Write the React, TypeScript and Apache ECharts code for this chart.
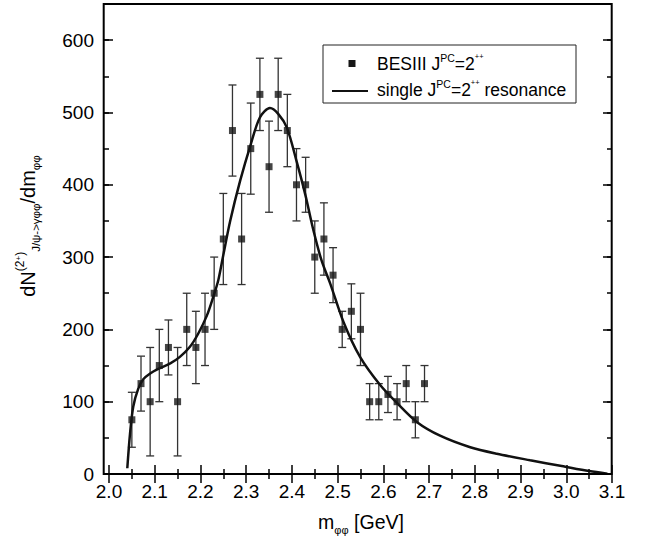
import React, { useEffect, useRef } from "react";
import * as echarts from "echarts";

// BESIII data points: m_phiphi [GeV], counts, symmetric errors
const massPoints = [
  2.05, 2.07, 2.09, 2.11, 2.13, 2.15, 2.17, 2.19, 2.21, 2.23, 2.25, 2.27, 2.29,
  2.31, 2.33, 2.35, 2.37, 2.39, 2.41, 2.43, 2.45, 2.47, 2.49, 2.51, 2.53, 2.55,
  2.57, 2.59, 2.61, 2.63, 2.65, 2.67, 2.69,
];
const counts = [
  75, 125, 100, 150, 175, 100, 200, 175, 200, 250, 325, 475, 325,
  450, 525, 425, 525, 475, 400, 400, 300, 325, 275, 200, 225, 200,
  100, 100, 110, 100, 125, 75, 125,
];
const errors = [
  38, 38, 75, 50, 38, 75, 50, 50, 50, 50, 63, 63, 63,
  63, 50, 63, 50, 50, 50, 38, 50, 50, 38, 25, 38, 50,
  25, 25, 25, 25, 25, 25, 25,
];

// single J^PC = 2^++ resonance fit curve
const fitX = [
  2.04, 2.046, 2.053, 2.064, 2.075, 2.09, 2.11, 2.134, 2.155, 2.177, 2.195,
  2.214, 2.228, 2.239, 2.25, 2.265, 2.287, 2.31, 2.33, 2.352, 2.37, 2.389,
  2.41, 2.429, 2.447, 2.465, 2.484, 2.513, 2.549, 2.593, 2.63, 2.673, 2.724,
  2.79, 2.848, 2.921, 2.99, 3.05, 3.09,
];
const fitY = [
  8, 56, 93, 118, 131, 139, 146, 153, 162, 176, 194,
  219, 245, 268, 303, 350, 406, 456, 493, 506, 498, 479,
  433, 387, 337, 295, 263, 210, 162, 123, 98, 72, 53,
  37, 28, 19, 11, 4, 0.5,
];

const FONT = "'Liberation Sans', Arial, Helvetica, sans-serif";

export default function App() {
  const ref = useRef<HTMLDivElement>(null);

  useEffect(() => {
    if (!ref.current) return;
    const chart = echarts.init(ref.current, undefined, { renderer: "svg" });

    const errData = massPoints.map((x, i) => [x, counts[i] - errors[i], counts[i] + errors[i]]);
    const ptData = massPoints.map((x, i) => [x, counts[i]]);
    const fitData = fitX.map((x, i) => [x, fitY[i]]);

    const tickStyle = { color: "#000", width: 1.5 };
    const baseX = {
      type: "value",
      min: 2.0,
      max: 3.1,
      interval: 0.1,
      splitLine: { show: false },
      axisLine: { show: false },
      axisTick: { show: true, inside: true, length: 9, lineStyle: tickStyle },
      minorTick: { show: true, splitNumber: 2, length: 5, lineStyle: tickStyle },
    };
    const baseY = {
      type: "value",
      min: 0,
      max: 650,
      splitLine: { show: false },
      axisLine: { show: false },
    };

    const legendRich = {
      a: { fontSize: 17.5, fontFamily: FONT, lineHeight: 24, fill: "#000" },
      s: { fontSize: 10.5, fontFamily: FONT, lineHeight: 13, verticalAlign: "top", fill: "#000" },
      t: { fontSize: 7.5, fontFamily: FONT, lineHeight: 9, verticalAlign: "top", fill: "#000" },
    };

    const option: any = {
      animation: false,
      textStyle: { fontFamily: FONT },
      grid: { left: 109, right: 37, top: 4, bottom: 67, containLabel: false },
      xAxis: [
        {
          ...baseX,
          position: "bottom",
          axisLabel: {
            show: true,
            fontSize: 19,
            color: "#000",
            fontFamily: FONT,
            margin: 8,
            formatter: (v: number) => v.toFixed(1),
          },
        },
        { ...baseX, position: "top", axisLabel: { show: false } },
      ],
      yAxis: [
        {
          ...baseY,
          position: "left",
          offset: 5,
          interval: 100,
          axisTick: { show: true, inside: true, length: 9, lineStyle: tickStyle },
          axisLabel: {
            show: true,
            fontSize: 19,
            color: "#000",
            fontFamily: FONT,
            margin: 10,
            showMaxLabel: false,
          },
        },
        {
          ...baseY,
          position: "left",
          offset: 5,
          interval: 50,
          axisTick: { show: true, inside: true, length: 5, lineStyle: tickStyle },
          axisLabel: { show: false },
        },
        {
          ...baseY,
          position: "right",
          interval: 100,
          axisTick: { show: true, inside: true, length: 9, lineStyle: tickStyle },
          axisLabel: { show: false },
        },
        {
          ...baseY,
          position: "right",
          interval: 50,
          axisTick: { show: true, inside: true, length: 5, lineStyle: tickStyle },
          axisLabel: { show: false },
        },
      ],
      series: [
        {
          type: "custom",
          name: "errors",
          z: 1,
          data: errData,
          encode: { x: 0, y: [1, 2] },
          renderItem: (params: any, api: any) => {
            const x = api.value(0);
            const lo = api.coord([x, api.value(1)]);
            const hi = api.coord([x, api.value(2)]);
            const half = 4;
            const style = { stroke: "#333", lineWidth: 1.3 };
            return {
              type: "group",
              children: [
                { type: "line", shape: { x1: lo[0], y1: lo[1], x2: hi[0], y2: hi[1] }, style },
                { type: "line", shape: { x1: lo[0] - half, y1: lo[1], x2: lo[0] + half, y2: lo[1] }, style },
                { type: "line", shape: { x1: hi[0] - half, y1: hi[1], x2: hi[0] + half, y2: hi[1] }, style },
              ],
            };
          },
        },
        {
          type: "line",
          name: "single resonance",
          z: 2,
          data: fitData,
          showSymbol: false,
          smooth: 0.3,
          lineStyle: { color: "#111", width: 2.5 },
        },
        {
          type: "scatter",
          name: "BESIII",
          z: 3,
          data: ptData,
          symbol: "rect",
          symbolSize: 7,
          itemStyle: { color: "#161616" },
        },
      ],
      graphic: [
        {
          type: "rect",
          z: 100,
          shape: { x: 103.7, y: 4, width: 508, height: 470 },
          style: { fill: "none", stroke: "#000", lineWidth: 2 },
        },
        {
          type: "rect",
          z: 100,
          shape: { x: 323, y: 45, width: 253, height: 58 },
          style: { fill: "#fff", stroke: "#222", lineWidth: 1 },
        },
        {
          type: "rect",
          z: 101,
          shape: { x: 348.5, y: 60, width: 7, height: 7 },
          style: { fill: "#161616" },
        },
        {
          type: "line",
          z: 101,
          shape: { x1: 332, y1: 91, x2: 368, y2: 91 },
          style: { stroke: "#111", lineWidth: 2 },
        },
        {
          type: "text",
          z: 101,
          x: 377,
          y: 64,
          style: {
            text: "{a|BESIII J}{s|PC}{a|=2}{t|++}",
            align: "left",
            verticalAlign: "middle",
            fill: "#000",
            rich: legendRich,
          },
        },
        {
          type: "text",
          z: 101,
          x: 377,
          y: 90,
          style: {
            text: "{a|single J}{s|PC}{a|=2}{t|++}{a| resonance}",
            align: "left",
            verticalAlign: "middle",
            fill: "#000",
            rich: legendRich,
          },
        },
        {
          type: "text",
          z: 101,
          x: 361,
          y: 522,
          style: {
            text: "{a|m}{b|φφ}{a| [GeV]}",
            align: "center",
            verticalAlign: "middle",
            fill: "#000",
            rich: {
              a: { fontSize: 19.5, fontFamily: FONT, lineHeight: 26, fill: "#000" },
              b: { fontSize: 11, fontFamily: FONT, lineHeight: 12, verticalAlign: "bottom", fill: "#000" },
            },
          },
        },
        {
          type: "text",
          z: 101,
          x: 28,
          y: 226,
          rotation: Math.PI / 2,
          style: {
            text: "{a|dN}{s|(2}{t|+}{s|)}{b|J/ψ->γφφ}{a|/dm}{b|φφ}",
            align: "center",
            verticalAlign: "middle",
            fill: "#000",
            rich: {
              a: { fontSize: 20, fontFamily: FONT, lineHeight: 28, fill: "#000" },
              s: { fontSize: 12, fontFamily: FONT, lineHeight: 13, verticalAlign: "top", fill: "#000" },
              t: { fontSize: 8, fontFamily: FONT, lineHeight: 7, verticalAlign: "top", fill: "#000" },
              b: { fontSize: 11.5, fontFamily: FONT, lineHeight: 11, verticalAlign: "bottom", fill: "#000" },
            },
          },
        },
      ],
    };

    chart.setOption(option);
    return () => chart.dispose();
  }, []);

  return (
    <div
      ref={ref}
      style={{ position: "absolute", left: 0, top: 0, width: 649, height: 541, background: "#fff" }}
    />
  );
}
